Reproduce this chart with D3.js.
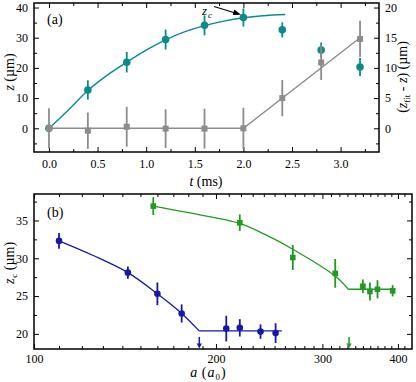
<!DOCTYPE html>
<head>
  <meta charset="utf-8">
  <style>
    body { margin: 0; background: #fff; }
    svg text { font-family: 'Liberation Serif', 'Times New Roman', serif; fill: black; }
    .axis text { font-size: 12px; }
    .axis line { stroke: black; stroke-width: 1; }
    .axis path { display: none; }
  </style>
</head>
<body>
  <script src="https://cdn.jsdelivr.net/npm/d3@7"></script>
  <script>
    // ---- panel (a) data ----
    const tA = [0, 0.4, 0.8, 1.2, 1.6, 2.0, 2.4, 2.8, 3.2];
    const zA = [0, 12.7, 21.9, 29.4, 34.1, 36.7, 32.6, 25.9, 20.3];
    const zErr = [0, 3.2, 3.4, 3.3, 3.3, 3.0, 2.5, 2.5, 3.0];
    const dzA = [0, -0.4, 0.25, -0.05, -0.05, 0, 5.0, 10.9, 14.8];
    const dzErr = [3.3, 3.0, 3.3, 3.2, 3.3, 3.4, 3.0, 2.9, 3.0];
    const fitT = [0, 0.2, 0.4, 0.6, 0.8, 1.0, 1.2, 1.4, 1.6, 1.8, 2.0, 2.2, 2.43];
    const fitZ = [0, 6.1, 12.5, 17.6, 21.9, 25.9, 29.3, 32.0, 34.0, 35.5, 36.6, 37.3, 37.7];
    const lineT = [0, 2.0, 3.2];
    const lineDz = [0, 0, 15.0];
    const tTicks = [0, 0.5, 1.0, 1.5, 2.0, 2.5, 3.0];
    const zTicks = [0, 10, 20, 30, 40];
    const dzTicks = [0, 5, 10, 15, 20];

    // ---- panel (b) data ----
    const blueA = [110, 143, 160, 175.5, 208, 219, 237, 251];
    const blueZ = [32.3, 28.1, 25.3, 22.7, 20.7, 20.8, 20.3, 20.1];
    const blueErr = [1.05, 0.8, 1.5, 1.2, 1.7, 1.15, 0.95, 1.3];
    const blueFitA = [110, 125, 143, 160, 175.5, 187.6];
    const blueFitZ = [32.3, 30.4, 28.1, 25.3, 22.7, 20.4];
    const blueFlat = [187.6, 257];
    const blueArrowA = 187.7;
    const greenA = [157.5, 219, 268, 315, 350, 359.5, 370, 392];
    const greenZ = [36.9, 34.7, 30.1, 28.0, 26.3, 25.6, 25.9, 25.7];
    const greenErr = [1.17, 1.1, 1.65, 1.9, 0.9, 1.2, 1.2, 0.75];
    const greenFitA = [157.5, 195, 219, 241, 268, 315, 331];
    const greenFitZ = [36.9, 35.5, 34.6, 33.15, 31.2, 27.65, 25.9];
    const greenFlat = [331, 396];
    const greenArrowA = 332;
    const arrowZ = [19.6, 18.05];
    const aTicks = [100, 200, 300, 400];
    const zcTicks = [20, 25, 30, 35];

    const teal = "#0b8a8a", grey = "#8c8c8c", blue = "#1818a8", green = "#229922";

    const svg = d3.select("body").append("svg").attr("width", 416).attr("height", 382);

    function addAxis(g, axis, tr) {
      return g.append("g").attr("class", "axis").attr("transform", tr).call(axis);
    }

    // ================= panel (a) =================
    const ax = {l: 34, r: 379, t: 3, b: 152};
    const x1 = d3.scaleLinear().domain([-0.154, 3.395]).range([ax.l, ax.r]);
    const y1 = d3.scaleLinear().domain([-7.85, 41.5]).range([ax.b, ax.t]);
    const y1r = d3.scaleLinear().domain([-3.925, 20.75]).range([ax.b, ax.t]);
    const pa = svg.append("g");

    const tMinor = d3.range(-0.25, 3.4, 0.25).filter(v => x1(v) > ax.l && Math.abs(v * 2 - Math.round(v * 2)) > 0.01);
    addAxis(pa, d3.axisBottom(x1).tickValues(tTicks).tickFormat(d3.format(".1f")).tickSize(-5).tickPadding(7), `translate(0,${ax.b})`);
    addAxis(pa, d3.axisBottom(x1).tickValues(tMinor).tickFormat("").tickSize(-3), `translate(0,${ax.b})`);
    addAxis(pa, d3.axisTop(x1).tickValues(tTicks).tickFormat("").tickSize(-5), `translate(0,${ax.t})`);
    addAxis(pa, d3.axisTop(x1).tickValues(tMinor).tickFormat("").tickSize(-3), `translate(0,${ax.t})`);
    addAxis(pa, d3.axisLeft(y1).tickValues(zTicks).tickSize(-5).tickPadding(6), `translate(${ax.l},0)`);
    addAxis(pa, d3.axisLeft(y1).tickValues([-5, 5, 15, 25, 35]).tickFormat("").tickSize(-3), `translate(${ax.l},0)`);
    addAxis(pa, d3.axisRight(y1r).tickValues(dzTicks).tickSize(-5).tickPadding(6), `translate(${ax.r},0)`);
    addAxis(pa, d3.axisRight(y1r).tickValues([-2.5, 2.5, 7.5, 12.5, 17.5]).tickFormat("").tickSize(-3), `translate(${ax.r},0)`);

    // teal fit and data
    pa.append("path")
      .datum(fitT.map((t, i) => [t, fitZ[i]]))
      .attr("fill", "none").attr("stroke", teal).attr("stroke-width", 1.4)
      .attr("d", d3.line().x(d => x1(d[0])).y(d => y1(d[1])).curve(d3.curveCatmullRom));
    const tealPts = tA.map((t, i) => ({t: t, z: zA[i], e: zErr[i]}));
    pa.selectAll(".terr").data(tealPts).enter().append("line")
      .attr("x1", d => x1(d.t)).attr("x2", d => x1(d.t))
      .attr("y1", d => y1(d.z - d.e)).attr("y2", d => y1(d.z + d.e))
      .attr("stroke", teal).attr("stroke-width", 1.8);
    pa.selectAll(".tpt").data(tealPts).enter().append("circle")
      .attr("cx", d => x1(d.t)).attr("cy", d => y1(d.z)).attr("r", 3.8).attr("fill", teal);

    // grey line and data (right axis)
    pa.append("path")
      .datum(lineT.map((t, i) => [t, lineDz[i]]))
      .attr("fill", "none").attr("stroke", grey).attr("stroke-width", 1.4)
      .attr("d", d3.line().x(d => x1(d[0])).y(d => y1r(d[1])));
    const greyPts = tA.map((t, i) => ({t: t, z: dzA[i], e: dzErr[i]}));
    pa.selectAll(".gerr").data(greyPts).enter().append("line")
      .attr("x1", d => x1(d.t)).attr("x2", d => x1(d.t))
      .attr("y1", d => y1r(d.z - d.e)).attr("y2", d => y1r(d.z + d.e))
      .attr("stroke", grey).attr("stroke-width", 1.8);
    pa.selectAll(".gpt").data(greyPts).enter().append("rect")
      .attr("x", d => x1(d.t) - 3).attr("y", d => y1r(d.z) - 3)
      .attr("width", 6).attr("height", 6).attr("fill", grey);

    pa.append("rect").attr("x", ax.l).attr("y", ax.t).attr("width", ax.r - ax.l).attr("height", ax.b - ax.t)
      .attr("fill", "none").attr("stroke", "black").attr("stroke-width", 1.5);

    // z_c annotation
    const zt = pa.append("text").attr("x", 202).attr("y", 15).style("font-size", "13px").style("font-style", "italic");
    zt.append("tspan").text("z");
    zt.append("tspan").attr("dy", 3).attr("dx", 1).style("font-size", "9px").text("c");
    pa.append("line").attr("x1", 214).attr("y1", 6.5).attr("x2", 236).attr("y2", 13.2)
      .attr("stroke", "black").attr("stroke-width", 1.2);
    pa.append("path").attr("d", "M241,14.8 L234.3,9.6 L232.8,14.9 Z").attr("fill", "black");

    pa.append("text").attr("x", 47).attr("y", 24).style("font-size", "14px").text("(a)");

    // axis titles
    const xt = pa.append("text").attr("x", 206).attr("y", 186).attr("text-anchor", "middle").style("font-size", "14px");
    xt.append("tspan").style("font-style", "italic").text("t");
    xt.append("tspan").text(" (ms)");
    const ylt = pa.append("text").attr("transform", "translate(14,72) rotate(-90)").attr("text-anchor", "middle").style("font-size", "14px");
    ylt.append("tspan").style("font-style", "italic").text("z");
    ylt.append("tspan").text(" (µm)");
    const yrt = pa.append("text").attr("transform", "translate(407,77) rotate(-90)").attr("text-anchor", "middle").style("font-size", "14px");
    yrt.append("tspan").text("(");
    yrt.append("tspan").style("font-style", "italic").text("z");
    yrt.append("tspan").attr("dy", 3).style("font-size", "9px").text("fit");
    yrt.append("tspan").attr("dy", -3).text(" - ");
    yrt.append("tspan").style("font-style", "italic").text("z");
    yrt.append("tspan").text(") (µm)");

    // ================= panel (b) =================
    const bx = {l: 34, r: 412, t: 194, b: 349};
    const x2 = d3.scaleLog().domain([100, 422]).range([bx.l, bx.r]);
    const y2 = d3.scaleLinear().domain([18.0, 38.5]).range([bx.b, bx.t]);
    const pb = svg.append("g");

    const aMinor = d3.range(110, 420, 10).filter(v => v % 100 !== 0);
    addAxis(pb, d3.axisBottom(x2).tickValues(aTicks).tickFormat(d3.format("d")).tickSize(-5).tickPadding(5), `translate(0,${bx.b})`);
    addAxis(pb, d3.axisBottom(x2).tickValues(aMinor).tickFormat("").tickSize(-3), `translate(0,${bx.b})`);
    addAxis(pb, d3.axisTop(x2).tickValues(aTicks).tickFormat("").tickSize(-5), `translate(0,${bx.t})`);
    addAxis(pb, d3.axisTop(x2).tickValues(aMinor).tickFormat("").tickSize(-3), `translate(0,${bx.t})`);
    const zcMinor = [22.5, 27.5, 32.5, 37.5];
    addAxis(pb, d3.axisLeft(y2).tickValues(zcTicks).tickSize(-5).tickPadding(6), `translate(${bx.l},0)`);
    addAxis(pb, d3.axisLeft(y2).tickValues(zcMinor).tickFormat("").tickSize(-3), `translate(${bx.l},0)`);
    addAxis(pb, d3.axisRight(y2).tickValues(zcTicks).tickFormat("").tickSize(-5), `translate(${bx.r},0)`);
    addAxis(pb, d3.axisRight(y2).tickValues(zcMinor).tickFormat("").tickSize(-3), `translate(${bx.r},0)`);

    const lineB = d3.line().x(d => x2(d[0])).y(d => y2(d[1]));
    function series(g, A, Z, E, fitA, fitZ, flat, arrowA, col, shape) {
      g.append("path").datum(fitA.map((a, i) => [a, fitZ[i]]))
        .attr("fill", "none").attr("stroke", col).attr("stroke-width", 1.3)
        .attr("d", lineB.curve(d3.curveCatmullRom));
      const zEnd = fitZ[fitZ.length - 1];
      g.append("path").datum(flat.map(a => [a, zEnd]))
        .attr("fill", "none").attr("stroke", col).attr("stroke-width", 1.3)
        .attr("d", lineB.curve(d3.curveLinear));
      const pts = A.map((a, i) => ({a: a, z: Z[i], e: E[i]}));
      g.selectAll(null).data(pts).enter().append("line")
        .attr("x1", d => x2(d.a)).attr("x2", d => x2(d.a))
        .attr("y1", d => y2(d.z - d.e)).attr("y2", d => y2(d.z + d.e))
        .attr("stroke", col).attr("stroke-width", 1.8);
      if (shape === "circle") {
        g.selectAll(null).data(pts).enter().append("circle")
          .attr("cx", d => x2(d.a)).attr("cy", d => y2(d.z)).attr("r", 3.3).attr("fill", col);
      } else {
        g.selectAll(null).data(pts).enter().append("rect")
          .attr("x", d => x2(d.a) - 2.8).attr("y", d => y2(d.z) - 2.8)
          .attr("width", 5.6).attr("height", 5.6).attr("fill", col);
      }
      // critical point arrow
      const ax0 = x2(arrowA), yTop = y2(arrowZ[0]), yTip = y2(arrowZ[1]);
      g.append("line").attr("x1", ax0).attr("x2", ax0).attr("y1", yTop).attr("y2", yTip - 4)
        .attr("stroke", col).attr("stroke-width", 1.5);
      g.append("path").attr("d", `M${ax0 - 2.6},${yTip - 5} L${ax0 + 2.6},${yTip - 5} L${ax0},${yTip} Z`).attr("fill", col);
    }
    series(pb, greenA, greenZ, greenErr, greenFitA, greenFitZ, greenFlat, greenArrowA, green, "square");
    series(pb, blueA, blueZ, blueErr, blueFitA, blueFitZ, blueFlat, blueArrowA, blue, "circle");

    pb.append("rect").attr("x", bx.l).attr("y", bx.t).attr("width", bx.r - bx.l).attr("height", bx.b - bx.t)
      .attr("fill", "none").attr("stroke", "black").attr("stroke-width", 1.5);

    pb.append("text").attr("x", 47).attr("y", 217).style("font-size", "14px").text("(b)");

    const xbt = pb.append("text").attr("x", 208).attr("y", 377).attr("text-anchor", "middle").style("font-size", "14px");
    xbt.append("tspan").style("font-style", "italic").text("a");
    xbt.append("tspan").attr("dx", 1).text(" (");
    xbt.append("tspan").attr("dx", 1).style("font-style", "italic").text("a");
    xbt.append("tspan").attr("dy", 3).attr("dx", 1).style("font-size", "9px").text("0");
    xbt.append("tspan").attr("dy", -3).attr("dx", 1).text(")");
    const ybt = pb.append("text").attr("transform", "translate(14,263) rotate(-90)").attr("text-anchor", "middle").style("font-size", "14px");
    ybt.append("tspan").style("font-style", "italic").text("z");
    ybt.append("tspan").attr("dy", 3).attr("dx", 1).style("font-size", "9px").text("c");
    ybt.append("tspan").attr("dy", -3).text(" (µm)");
  </script>
</body>
